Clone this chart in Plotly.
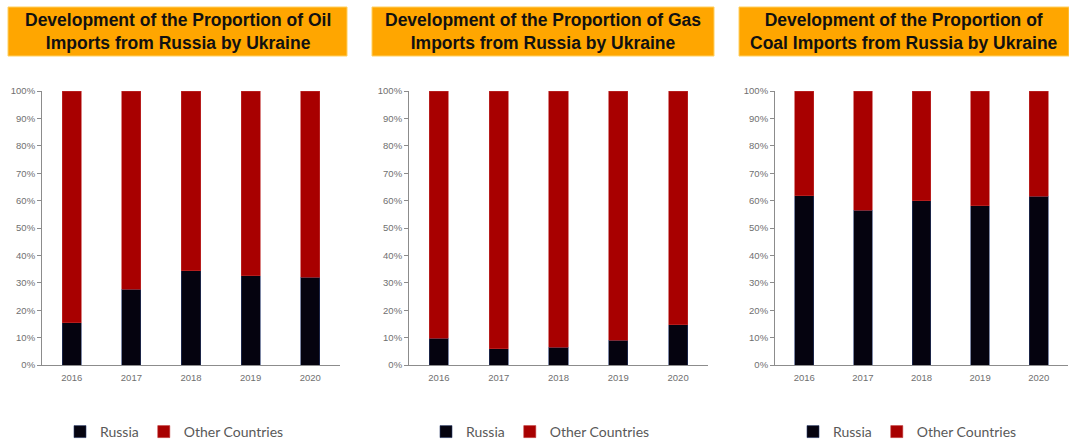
import plotly.graph_objects as go

years = ["2016", "2017", "2018", "2019", "2020"]

oil_russia = [0.154, 0.276, 0.344, 0.326, 0.321]
oil_other = [0.846, 0.724, 0.656, 0.674, 0.679]

gas_russia = [0.098, 0.060, 0.064, 0.091, 0.147]
gas_other = [0.902, 0.940, 0.936, 0.909, 0.853]

coal_russia = [0.617, 0.565, 0.599, 0.581, 0.615]
coal_other = [0.383, 0.435, 0.401, 0.419, 0.385]

titles = [
    "Development of the Proportion of Oil<br>Imports from Russia by Ukraine",
    "Development of the Proportion of Gas<br>Imports from Russia by Ukraine",
    "Development of the Proportion of<br>Coal Imports from Russia by Ukraine",
]
series_names = ["Russia", "Other Countries"]

W, H = 1069, 441
RUSSIA_COLOR = "#05030f"
OTHER_COLOR = "#a80000"
GRAY = "#595959"
TICK_GRAY = "#6f6f6f"
AXIS = "#8c8c8c"

# panel geometry (pixels)
x_domains_px = [(42, 340), (409, 708), (775, 1068)]
y_top_px, y_bot_px = 91, 365
title_boxes_px = [(8, 347), (372, 714), (739, 1069)]
legend_x_px = [60, 426, 793]

fig = go.Figure()

data = [(oil_russia, oil_other), (gas_russia, gas_other), (coal_russia, coal_other)]
for i, (ru, ot) in enumerate(data):
    xa = "x" if i == 0 else f"x{i+1}"
    ya = "y" if i == 0 else f"y{i+1}"
    lg = "legend" if i == 0 else f"legend{i+1}"
    fig.add_trace(go.Bar(x=years, y=ru, name=series_names[0], marker_color=RUSSIA_COLOR,
                         marker_line=dict(width=0.6, color="#2a3a6a"),
                         xaxis=xa, yaxis=ya, legend=lg))
    fig.add_trace(go.Bar(x=years, y=ot, name=series_names[1], marker_color=OTHER_COLOR,
                         marker_line=dict(width=0.6, color="#c03030"),
                         xaxis=xa, yaxis=ya, legend=lg))

layout = dict(
    width=W, height=H, barmode="stack", bargap=0.68,
    margin=dict(l=0, r=0, t=0, b=0, autoexpand=False),
    paper_bgcolor="white", plot_bgcolor="white",
    font=dict(family="Lato, Open Sans, sans-serif", color=GRAY),
)

y_dom = [1 - y_bot_px / H, 1 - y_top_px / H]
for i, (x0, x1) in enumerate(x_domains_px):
    suf = "" if i == 0 else str(i + 1)
    layout[f"xaxis{suf}"] = dict(
        domain=[x0 / W, x1 / W], anchor=f"y{suf}", type="category",
        showline=True, linecolor=AXIS, linewidth=1,
        ticks="outside", ticklen=4, tickcolor="rgba(0,0,0,0)",
        showgrid=False, tickfont=dict(size=9.5, color=TICK_GRAY, family="Liberation Sans"),
    )
    layout[f"yaxis{suf}"] = dict(
        domain=y_dom, anchor=f"x{suf}", range=[0, 1], tickformat=".0%",
        tick0=0, dtick=0.1, showline=True, linecolor=AXIS, linewidth=1,
        ticks="outside", ticklen=4, tickcolor=AXIS, showgrid=False, zeroline=False,
        tickfont=dict(size=9.5, color=TICK_GRAY, family="Liberation Sans"),
    )
    lg = "legend" if i == 0 else f"legend{i+1}"
    layout[lg] = dict(
        orientation="h", x=legend_x_px[i] / W, xanchor="left",
        y=1 - 432 / H, yanchor="middle", bgcolor="rgba(0,0,0,0)",
        font=dict(size=14, color=GRAY, family="Lato"), traceorder="normal",
    )

fig.update_layout(**layout)

for i, (bx0, bx1) in enumerate(title_boxes_px):
    fig.add_shape(type="rect", xref="paper", yref="paper",
                  x0=bx0 / W, x1=bx1 / W, y0=1 - 56 / H, y1=1 - 7 / H,
                  fillcolor="#ffa600", line=dict(color="#ffd060", width=1), layer="below")
    fig.add_annotation(xref="paper", yref="paper", x=(bx0 + bx1) / 2 / W,
                       y=1 - 31.5 / H, text=f"<b>{titles[i]}</b>", showarrow=False,
                       xanchor="center", yanchor="middle",
                       font=dict(family="Liberation Sans", size=17.5, color="#111111"))

fig.write_html("out.html", config={"displayModeBar": False},
               post_script="document.body.style.margin='0';document.body.style.overflow='hidden';")
